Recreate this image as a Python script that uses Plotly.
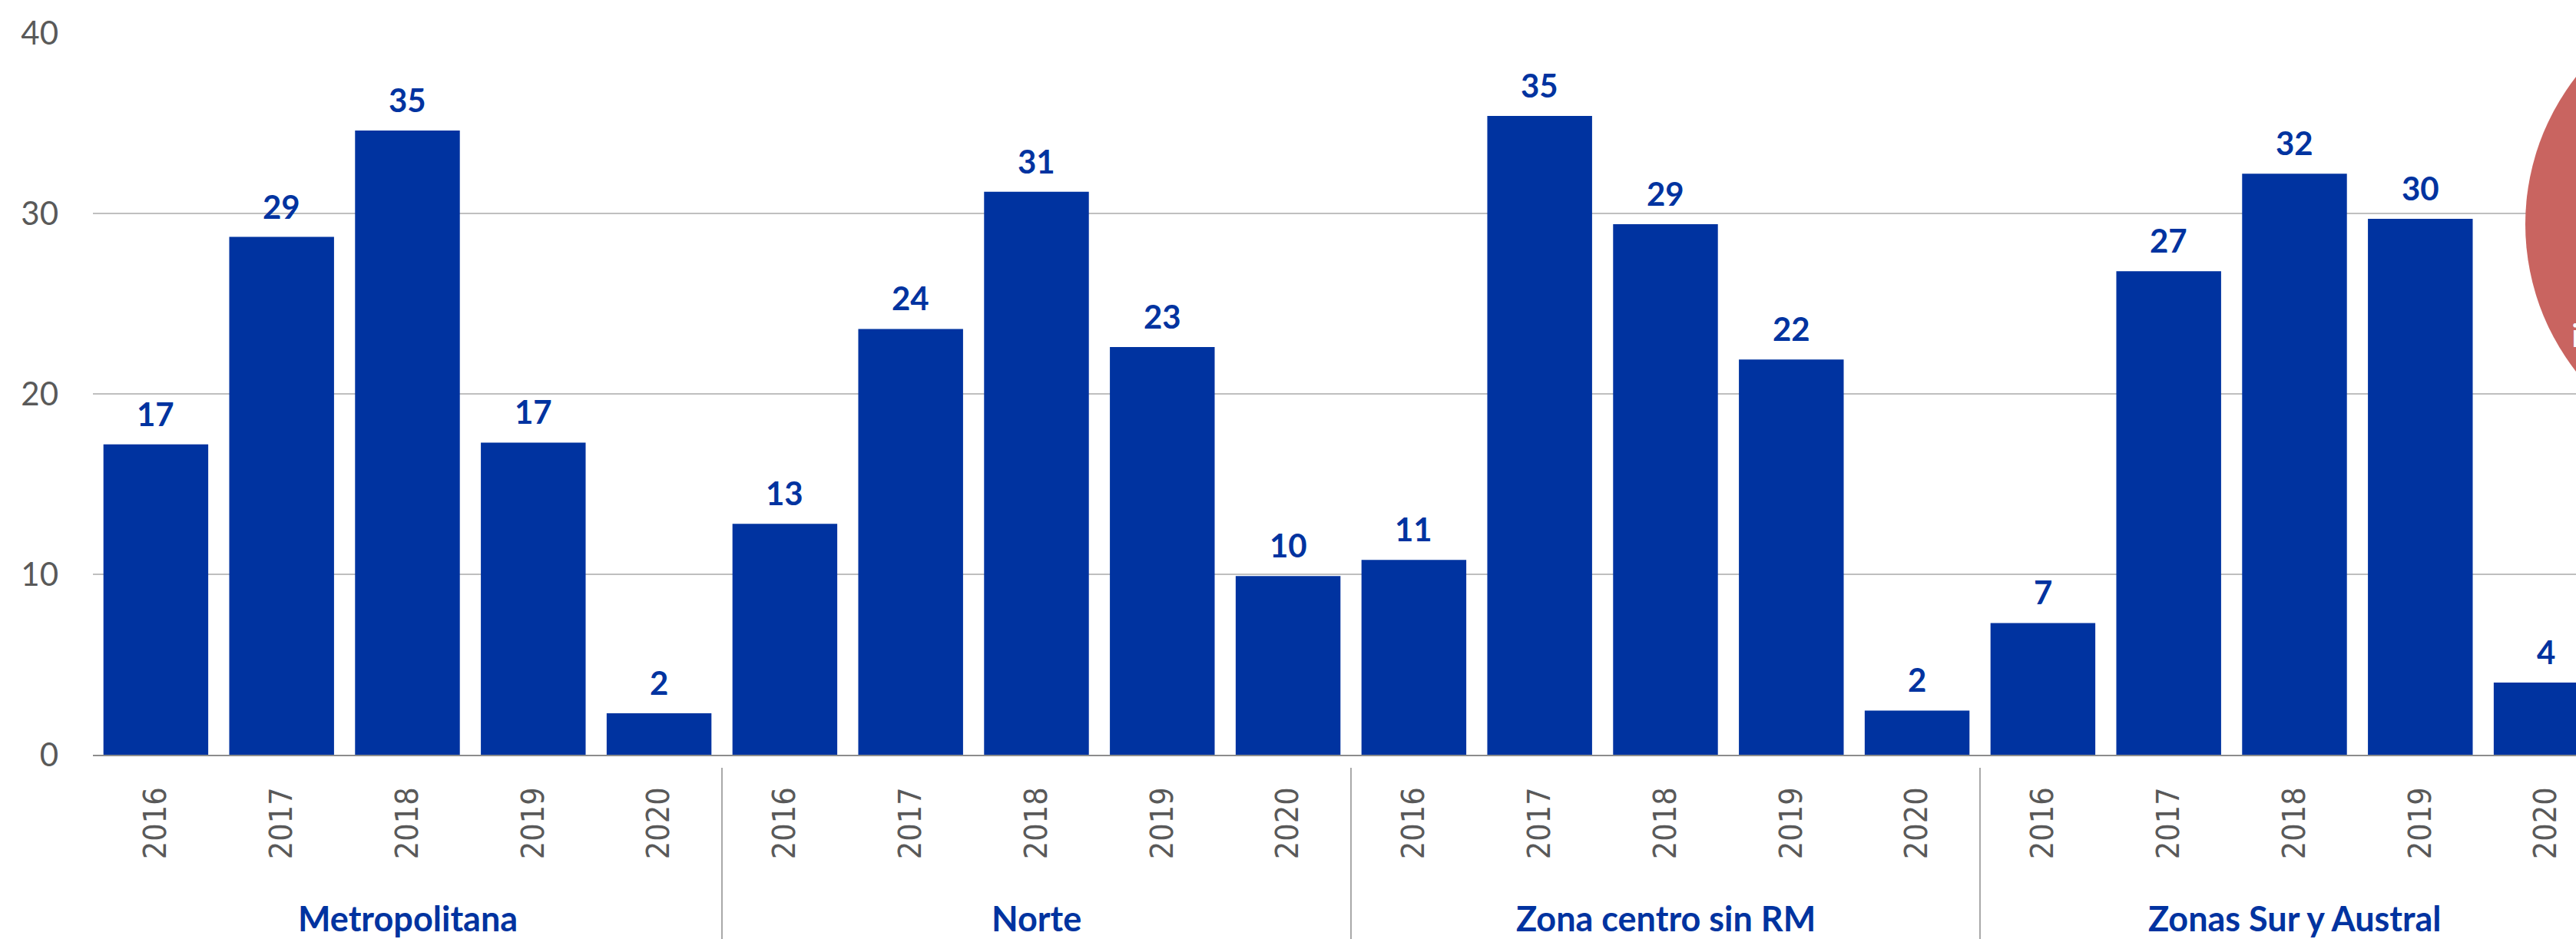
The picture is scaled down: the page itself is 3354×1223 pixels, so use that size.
import plotly.graph_objects as go

# ---------------- data ----------------
groups = ["Metropolitana", "Norte", "Zona centro sin RM", "Zonas Sur y Austral"]
years = ["2016", "2017", "2018", "2019", "2020"]
metropolitana = [17.2, 28.7, 34.6, 17.3, 2.3]
norte = [12.8, 23.6, 31.2, 22.6, 9.9]
zona_centro = [10.8, 35.4, 29.4, 21.9, 2.45]
zonas_sur = [7.3, 26.8, 32.2, 29.7, 4.0]
values_by_group = [metropolitana, norte, zona_centro, zonas_sur]
y_ticks = [0, 10, 20, 30, 40]

# ---------------- build categories ----------------
x_keys, y_vals, tick_text = [], [], []
for g, vals in zip(groups, values_by_group):
    for yr, v in zip(years, vals):
        x_keys.append(f"{g} {yr}")
        y_vals.append(v)
        tick_text.append(yr)

# ---------------- layout geometry ----------------
W, H = 3354, 1223
ML, MR, MT, MB = 121, 0, 43, 240
plot_w = W - ML - MR
plot_h = H - MT - MB
cat_px = 163.8
x_max = plot_w / cat_px - 0.5


def pyp(p):
    return (H - MB - p) / plot_h


def pxp(p):
    return (p - ML) / plot_w


BLUE = "#0033A0"
GRAY_TXT = "#595959"

fig = go.Figure()
fig.add_trace(go.Bar(
    x=x_keys, y=y_vals,
    marker=dict(color=BLUE, line=dict(width=0)),
    hoverinfo="x+y",
))

annotations = []
# value labels
for k, v in zip(x_keys, y_vals):
    annotations.append(dict(
        x=k, y=v, xref="x", yref="y", text=f"{v:.0f}", showarrow=False,
        yanchor="bottom", yshift=13,
        font=dict(family="Lato, 'Open Sans', sans-serif", size=42, color=BLUE, weight="bold"),
    ))
# group labels
for i, g in enumerate(groups):
    annotations.append(dict(
        x=x_keys[i * len(years) + len(years) // 2], xref="x",
        y=pyp(1196), yref="paper", yanchor="middle",
        text=f"<b>{g}</b>", showarrow=False,
        font=dict(family="Lato, 'Open Sans', sans-serif", size=45, color=BLUE),
    ))
# partially visible white text in the red circle
annotations.append(dict(
    x=pxp(3346), xref="paper", xanchor="left",
    y=pyp(436), yref="paper", yanchor="middle",
    text="i", showarrow=False,
    font=dict(family="Lato, sans-serif", size=42, color="white"),
))

shapes = []
# group dividers
for i in range(1, len(groups)):
    shapes.append(dict(
        type="line", xref="x", yref="paper",
        x0=i * len(years) - 0.5, x1=i * len(years) - 0.5,
        y0=pyp(1000), y1=pyp(1223),
        line=dict(color="#8C8C8C", width=1.5),
    ))
# red circle (cropped at right edge)
cx, cy, r = 3600, 292, 312
shapes.append(dict(
    type="circle", xref="paper", yref="paper",
    x0=pxp(cx - r), x1=pxp(cx + r), y0=pyp(cy + r), y1=pyp(cy - r),
    fillcolor="#C96460", line=dict(width=0), layer="above",
))

fig.update_layout(
    width=W, height=H,
    margin=dict(l=ML, r=MR, t=MT, b=MB, pad=0, autoexpand=False),
    paper_bgcolor="white", plot_bgcolor="white",
    bargap=0.167,
    showlegend=False,
    annotations=annotations,
    shapes=shapes,
    xaxis=dict(
        type="category", automargin=False,
        range=[-0.5, x_max],
        tickmode="array", tickvals=x_keys, ticktext=tick_text,
        tickangle=-90,
        tickfont=dict(family="'DejaVu Sans Condensed', 'DejaVu Sans', sans-serif", size=41, color=GRAY_TXT),
        ticks="", ticklabelstandoff=24,
        showline=True, linecolor="#8C8C8C", linewidth=2,
        showgrid=False, zeroline=False, fixedrange=True,
    ),
    yaxis=dict(
        automargin=False,
        range=[0, 40], tickmode="array", tickvals=y_ticks,
        tickfont=dict(family="Lato, 'Open Sans', sans-serif", size=42, color=GRAY_TXT),
        ticks="", ticklabelstandoff=44,
        showgrid=True, gridcolor="#BFBFBF", gridwidth=2,
        zeroline=False, showline=False, fixedrange=True,
    ),
)

fig.write_html(
    "out.html",
    config={"displayModeBar": False},
    post_script="document.body.style.margin='0';document.body.style.overflow='hidden';",
)
